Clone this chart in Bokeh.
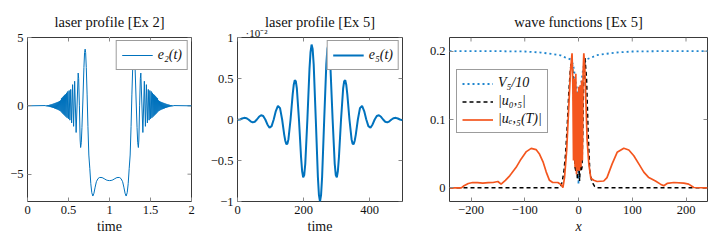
from bokeh.plotting import figure
from bokeh.layouts import row
from bokeh.models import (Range1d, LinearAxis, FixedTicker, CustomJSTickFormatter,
                          Legend, LegendItem, Title)
from bokeh.embed import file_html
from bokeh.resources import INLINE

# ---------------- data ----------------
# panel 1: laser profile e2(t)  (t, value)
e2_samples = [
    (0.0, 0.0), (0.22, 0.02), (0.2265, -0.03), (0.233, 0.03), (0.2395, -0.04), (0.246, 0.05),
    (0.2525, -0.05), (0.259, 0.06), (0.2655, -0.07), (0.272, 0.08), (0.2785, -0.09), (0.285, 0.10),
    (0.2915, -0.11), (0.298, 0.12), (0.3045, -0.13), (0.311, 0.15), (0.3175, -0.16), (0.324, 0.18),
    (0.3305, -0.19), (0.337, 0.21), (0.3435, -0.22), (0.35, 0.24), (0.3565, -0.25), (0.363, 0.27),
    (0.3695, -0.28), (0.376, 0.30), (0.3825, -0.32), (0.389, 0.35), (0.3955, -0.37), (0.402, 0.40),
    (0.408, -0.42), (0.414, 0.55), (0.42, -0.5), (0.426, 0.62), (0.432, -0.58), (0.438, 0.7),
    (0.444, -0.65), (0.45, 0.78), (0.456, -0.72), (0.462, 0.85), (0.469, -0.8), (0.476, 0.95),
    (0.483, -0.88), (0.491, 1.05), (0.499, -0.95), (0.508, 1.12), (0.517, -1.05), (0.527, 1.2),
    (0.538, -1.25), (0.55, 1.55), (0.562, -1.5), (0.575, 1.8), (0.593, -1.95), (0.618, 2.4),
    (0.624, 2.0), (0.633, 0.0), (0.642, -2.5), (0.648, -3.05), (0.656, -2.7), (0.664, -1.6),
    (0.676, 0.5), (0.688, 2.8), (0.696, 3.9), (0.703, 4.15), (0.709, 3.9), (0.717, 2.8),
    (0.727, 0.8), (0.737, -1.5), (0.748, -3.6), (0.76, -4.6), (0.772, -5.7), (0.784, -6.35),
    (0.797, -6.6), (0.81, -6.4), (0.825, -5.95), (0.84, -5.55), (0.86, -5.32), (0.88, -5.24),
    (0.91, -5.25), (0.935, -5.33), (0.96, -5.42), (0.98, -5.46), (1.0, -5.47),
    (1.02, -5.46), (1.04, -5.42), (1.065, -5.33), (1.09, -5.25), (1.12, -5.24), (1.14, -5.32),
    (1.16, -5.55), (1.175, -5.95), (1.19, -6.4), (1.203, -6.6), (1.216, -6.35), (1.228, -5.7),
    (1.24, -4.6), (1.252, -3.6), (1.263, -1.5), (1.273, 0.8), (1.283, 2.8), (1.291, 3.9),
    (1.297, 4.15), (1.304, 3.9), (1.312, 2.8), (1.324, 0.5), (1.336, -1.6), (1.344, -2.7),
    (1.352, -3.05), (1.358, -2.5), (1.367, 0.0), (1.376, 2.0), (1.382, 2.4), (1.407, -1.95),
    (1.425, 1.8), (1.438, -1.5), (1.45, 1.55), (1.462, -1.25), (1.473, 1.2), (1.483, -1.05),
    (1.492, 1.12), (1.501, -0.95), (1.509, 1.05), (1.517, -0.88), (1.524, 0.95), (1.531, -0.8),
    (1.538, 0.85), (1.544, -0.72), (1.55, 0.78), (1.556, -0.65), (1.562, 0.7), (1.568, -0.58),
    (1.574, 0.62), (1.58, -0.5), (1.586, 0.55), (1.592, -0.42), (1.598, 0.40), (1.6045, -0.37),
    (1.611, 0.35), (1.6175, -0.32), (1.624, 0.30), (1.6305, -0.28), (1.637, 0.27), (1.6435, -0.25),
    (1.65, 0.24), (1.6565, -0.22), (1.663, 0.21), (1.6695, -0.19), (1.676, 0.18), (1.6825, -0.16),
    (1.689, 0.15), (1.6955, -0.13), (1.702, 0.12), (1.7085, -0.11), (1.715, 0.10), (1.7215, -0.09),
    (1.728, 0.08), (1.7345, -0.07), (1.741, 0.06), (1.7475, -0.05), (1.754, 0.05), (1.7605, -0.04),
    (1.767, 0.03), (1.7735, -0.03), (1.78, 0.02), (2.0, 0.0),
]

# panel 2: laser profile e5(t), values in units of 1e-2
e5_samples = [
    (0.0, -0.004), (7.75, 0.0), (14.125, 0.012), (20.5, 0.02), (26.875, 0.016), (33.25, 0.0),
    (39.625, -0.022), (46.0, -0.035), (52.375, -0.027), (58.75, 0.0), (65.125, 0.033), (71.5, 0.052),
    (77.875, 0.042), (84.25, 0.0), (90.625, -0.06), (97.0, -0.10), (103.375, -0.081), (109.75, 0.0),
    (116.125, 0.103), (122.5, 0.167), (128.875, 0.138), (135.25, 0.0), (141.625, -0.187),
    (144.81, -0.259), (148.0, -0.30), (151.19, -0.296), (154.375, -0.240), (160.75, 0.0),
    (167.125, 0.304), (170.31, 0.420), (173.5, 0.478), (176.69, 0.467), (179.875, 0.378), (186.25, 0.0),
    (192.625, -0.460), (195.81, -0.628), (199.0, -0.706), (202.19, -0.679), (205.375, -0.541),
    (211.75, 0.0), (218.125, 0.615), (221.31, 0.822), (224.5, 0.914), (227.69, 0.859),
    (230.875, 0.672), (237.25, 0.0), (243.625, -0.703), (246.81, -0.923), (250.0, -1.0),
    (253.19, -0.923), (256.375, -0.703), (262.75, 0.0), (269.125, 0.672), (272.31, 0.859),
    (275.5, 0.914), (278.69, 0.822), (281.875, 0.615), (288.25, 0.0), (294.625, -0.541),
    (297.81, -0.679), (301.0, -0.706), (304.19, -0.628), (307.375, -0.460), (313.75, 0.0),
    (320.125, 0.378), (323.31, 0.467), (326.5, 0.478), (329.69, 0.420), (332.875, 0.304),
    (339.25, 0.0), (345.625, -0.240), (348.81, -0.296), (352.0, -0.30), (355.19, -0.259),
    (358.375, -0.187), (364.75, 0.0), (371.125, 0.138), (377.5, 0.167),
    (383.875, 0.103), (390.25, 0.0), (396.625, -0.081), (403.0, -0.10), (409.375, -0.060), (415.75, 0.0),
    (422.125, 0.042), (428.5, 0.052), (434.875, 0.033), (441.25, 0.0), (447.625, -0.027), (454.0, -0.035),
    (460.375, -0.022), (466.75, 0.0), (473.125, 0.016), (479.5, 0.02), (485.875, 0.012), (492.25, 0.0),
    (498.625, -0.008), (500.0, -0.008),
]

# panel 3: wave functions
V5_samples = [
    (-240, 0.2), (-150, 0.2), (-100, 0.1995), (-70, 0.198), (-50, 0.196), (-33.5, 0.194),
    (-25, 0.191), (-15, 0.188), (-11, 0.182), (-8.8, 0.175), (-5.7, 0.157), (-2.6, 0.143),
    (-1.3, 0.075), (0, 0.005), (1.3, 0.075), (2.6, 0.143), (5.7, 0.157), (8.8, 0.175),
    (11, 0.182), (15, 0.188), (25, 0.191), (33.5, 0.194), (50, 0.196), (70, 0.198),
    (100, 0.1995), (150, 0.2), (240, 0.2),
]
u0_samples = [
    (-240, 0.0), (-36, 0.0), (-33, 0.002), (-30, 0.01), (-27, 0.025), (-24, 0.05), (-21, 0.09),
    (-18, 0.14), (-15, 0.175), (-12, 0.19), (-9.5, 0.15), (-8, 0.08), (-6.5, 0.03), (-5, 0.025),
    (-3.5, 0.035), (-2, 0.012), (-1, 0.03), (0, 0.035), (1, 0.03), (2, 0.01), (3.5, 0.035),
    (5, 0.025), (6.5, 0.03), (8, 0.08), (9.5, 0.15), (12, 0.19), (15, 0.16), (18, 0.08),
    (21, 0.025), (24, 0.012), (27, 0.006), (30, 0.002), (34, 0.0), (240, 0.0),
]
ue_samples = [
    (-240, 0.0), (-218, 0.0), (-213, 0.003), (-205, 0.0064), (-197, 0.0078), (-188, 0.0075),
    (-178, 0.0069), (-168, 0.0075), (-159, 0.0078), (-150, 0.0093), (-144, 0.0054), (-136, 0.011),
    (-128, 0.0176), (-116, 0.030), (-107, 0.042), (-97, 0.053), (-88, 0.0578), (-79, 0.056),
    (-73, 0.050), (-66, 0.038), (-60, 0.023), (-54, 0.011), (-48, 0.0078), (-38.5, 0.0078),
    (-32, 0.0044), (-29, 0.0005), (-26, 0.015), (-22, 0.055), (-18, 0.12), (-15, 0.17),
    (-12, 0.197), (-10.5, 0.15), (-9.3, 0.04), (-7.8, 0.16), (-6.4, 0.03), (-5, 0.167),
    (-3.7, 0.02), (-2.2, 0.14), (-0.9, 0.025), (0.4, 0.148), (1.9, 0.025), (3.2, 0.15),
    (4.5, 0.03), (5.8, 0.157), (7.2, 0.04), (8.6, 0.17), (9.9, 0.197), (12, 0.17),
    (14, 0.12), (16, 0.07),
    (19.2, 0.035), (23, 0.014), (28.4, 0.011), (34.6, 0.0093), (47, 0.010), (53, 0.015),
    (62.6, 0.035), (71.9, 0.052), (84.3, 0.058), (93.6, 0.0554), (102.9, 0.047), (112.2, 0.035),
    (121.5, 0.023), (130.8, 0.015), (143.2, 0.010), (152.5, 0.0054), (158.7, 0.003),
    (164.9, 0.0064), (177.3, 0.0078), (195.9, 0.0069), (205, 0.0054), (214.5, 0.0005), (240, 0.0),
]

ticks_x1 = [0, 0.5, 1, 1.5, 2]
ticks_y1 = [-5, 0, 5]
ticks_x2 = [0, 200, 400]
ticks_y2 = [-1, -0.5, 0, 0.5, 1]
ticks_x3 = [-200, -100, 0, 100, 200]
ticks_y3 = [0, 0.1, 0.2]

titles = ["laser profile [Ex 2]", "laser profile [Ex 5]", "wave functions [Ex 5]"]
scale_note = "\u00b710\u207b\u00b2"

# ---------------- styling ----------------
FONT = "Liberation Serif"
BLUE = "#0072BD"
DOTBLUE = "#1f86cf"
ORANGE = "#F4561E"
TICKC = "#8a8a8a"
FRAMEC = "#3a3a3a"
TXT = "#111111"
MINUS_FMT = "var s = Math.abs(tick).toString(); return tick < 0 ? '\u2212' + s : s;"

H = 241
BT, BB = 37, 40
TITLE_STANDOFF = 2
SPACER = 7
NOTE_STANDOFF = -7


def unzip(samples):
    return [a for a, _ in samples], [b for _, b in samples]


def add_axis(p, side, ticks, axis_label=None, italic=False):
    ax = LinearAxis(ticker=FixedTicker(ticks=ticks),
                    formatter=CustomJSTickFormatter(code=MINUS_FMT))
    ax.axis_line_color = None
    ax.major_tick_in = 4
    ax.major_tick_out = 0
    ax.major_tick_line_color = TICKC
    ax.major_tick_line_width = 1
    ax.minor_tick_line_color = None
    ax.major_label_text_font = FONT
    ax.major_label_text_color = TXT
    ax.major_label_text_font_size = "12.5px"
    ax.major_label_standoff = 4
    if axis_label:
        ax.axis_label = axis_label
        ax.axis_label_text_font = FONT
        ax.axis_label_text_font_size = "14px"
        ax.axis_label_text_font_style = "italic" if italic else "normal"
        ax.axis_label_standoff = 2
        ax.axis_label_text_color = TXT
    p.add_layout(ax, side)


def add_spacer(p, size, mid):
    # an unlabeled, white-ticked axis that only reserves a little vertical room
    sp = LinearAxis(ticker=FixedTicker(ticks=[mid]), major_tick_out=size, major_tick_in=0,
                    major_label_standoff=0, axis_line_color=None,
                    major_tick_line_color="white", minor_tick_line_color=None,
                    major_label_text_color=None, major_label_text_font_size="1px")
    p.add_layout(sp, "above")


def make_fig(width, bl, br, xr, yr, xt, yt, xlabel, title, italic=False):
    p = figure(width=width, height=H, x_range=Range1d(*xr), y_range=Range1d(*yr),
               output_backend="svg", toolbar_location=None,
               x_axis_location=None, y_axis_location=None,
               min_border_left=bl, min_border_right=br,
               min_border_top=BT, min_border_bottom=BB)
    p.xgrid.visible = False
    p.ygrid.visible = False
    p.outline_line_color = FRAMEC
    p.outline_line_width = 1
    p.background_fill_color = "white"
    p.border_fill_color = "white"
    p.title.text = title
    p.title.text_font = FONT
    p.title.text_font_size = "14.5px"
    p.title.text_font_style = "normal"
    p.title.text_color = TXT
    p.title.align = "center"
    p.title.vertical_align = "bottom"
    p.title.standoff = TITLE_STANDOFF
    add_axis(p, "below", xt, xlabel, italic)
    add_axis(p, "left", yt)
    # inward tick marks on the top and right edges of the frame
    n_x, n_y = len(xt), len(yt)
    p.ray(x=xt, y=[yr[1]] * n_x, length=4, length_units="screen", angle=-90,
          angle_units="deg", line_color=TICKC, line_width=1)
    p.ray(x=[xr[1]] * n_y, y=yt, length=4, length_units="screen", angle=180,
          angle_units="deg", line_color=TICKC, line_width=1)
    return p


def style_legend(leg, row_h):
    leg.label_text_font = FONT
    leg.label_text_font_style = "italic"
    leg.label_text_font_size = "14px"
    leg.label_text_color = TXT
    leg.border_line_color = FRAMEC
    leg.border_line_width = 1
    leg.background_fill_alpha = 1.0
    leg.glyph_width = 31
    leg.glyph_height = row_h
    leg.label_height = row_h
    leg.label_standoff = 5
    leg.padding = 5
    leg.spacing = 2


# panel 1
p1 = make_fig(201, 27, 10, (0, 2), (-7, 5), ticks_x1, ticks_y1, "time", titles[0])
add_spacer(p1, SPACER, ticks_x1[2])
t1, v1 = unzip(e2_samples)
r1 = p1.line(t1, v1, line_color=BLUE, line_width=1.0)
leg1 = Legend(items=[LegendItem(label="e\u2082(t)", renderers=[r1])], location="top_right")
style_legend(leg1, 18)
leg1.margin = 3
p1.add_layout(leg1)

# panel 2
p2 = make_fig(211, 36, 10, (0, 500), (-1, 1), ticks_x2, ticks_y2, "time", titles[1])
t2, v2 = unzip(e5_samples)
r2 = p2.line(t2, v2, line_color=BLUE, line_width=2.0)
leg2 = Legend(items=[LegendItem(label="e\u2085(t)", renderers=[r2])], location="top_right")
style_legend(leg2, 18)
leg2.margin = 3
p2.add_layout(leg2)
note = Title(text=scale_note, align="left", offset=8, text_font=FONT, text_font_size="11px",
             text_font_style="normal", text_color=TXT)
try:
    note.standoff = NOTE_STANDOFF
    note.vertical_align = "top"
except ValueError:
    note.standoff = 0
    note.vertical_align = "bottom"
p2.add_layout(note, "above")

# panel 3
p3 = make_fig(296, 37, 1, (-240, 240), (-0.02, 0.22), ticks_x3, ticks_y3, "x", titles[2],
              italic=True)
add_spacer(p3, SPACER, ticks_x3[2])
x3v, y3v = unzip(V5_samples)
x3u, y3u = unzip(u0_samples)
x3e, y3e = unzip(ue_samples)
rv = p3.line(x3v, y3v, line_color=DOTBLUE, line_width=1.8, line_dash="2 3")
ru = p3.line(x3u, y3u, line_color="black", line_width=1.5, line_dash="4 3")
re = p3.line(x3e, y3e, line_color=ORANGE, line_width=1.7)
leg3 = Legend(items=[LegendItem(label="V\u2085/10", renderers=[rv]),
                     LegendItem(label="|u\u2080,\u2085|", renderers=[ru]),
                     LegendItem(label="|u\u2091,\u2085(T)|", renderers=[re])],
              location=(7, 68))
style_legend(leg3, 15)
leg3.margin = 0
p3.add_layout(leg3)

layout = row(p1, p2, p3)
open("out.html", "w").write(file_html(layout, INLINE))
